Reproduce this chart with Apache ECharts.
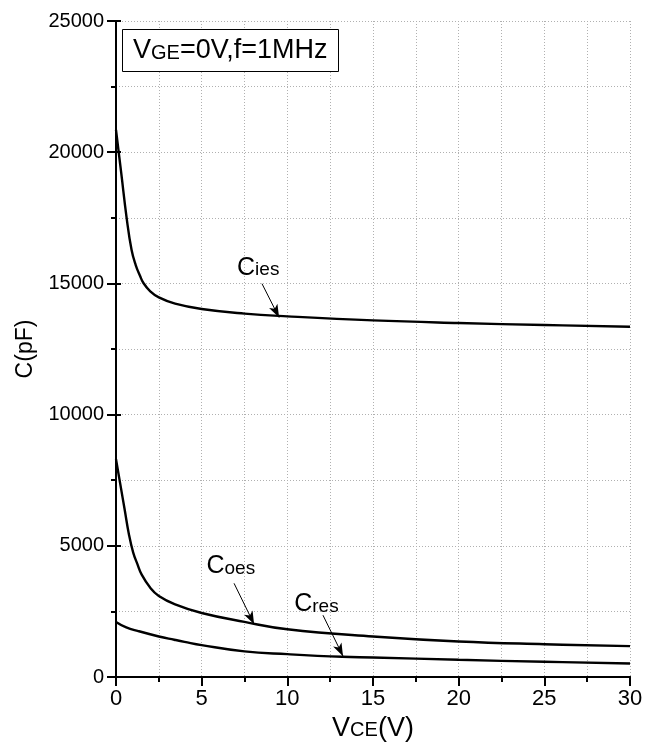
<!DOCTYPE html>
<html>
<head>
<meta charset="utf-8">
<script src="https://cdn.jsdelivr.net/npm/echarts@6/dist/echarts.min.js"></script>
<style>html,body{margin:0;padding:0;background:#fff}#c{width:648px;height:747px}</style>
</head>
<body>
<div id="c"></div>
<script>
// Data
var ciesV = [0, 0.31, 0.62, 0.91, 1.15, 1.4, 1.6, 2.0, 2.5, 3.45, 5, 7.5, 10, 15, 20, 25, 30];
var ciesC = [20850, 19180, 17500, 16270, 15700, 15290, 15015, 14700, 14470, 14230, 14025, 13850, 13745, 13590, 13490, 13415, 13350];
var coesV = [0, 0.25, 0.5, 0.75, 1.0, 1.25, 1.5, 2.0, 2.5, 3.45, 5, 7.5, 10, 15, 20, 25, 30];
var coesC = [8300, 7350, 6400, 5450, 4750, 4300, 3900, 3400, 3090, 2770, 2440, 2100, 1820, 1545, 1355, 1250, 1175];
var cresV = [0, 0.6, 1.3, 2.5, 3.4, 4.0, 5, 7.5, 10, 13.2, 15, 20, 25, 30];
var cresC = [2100, 1890, 1750, 1545, 1420, 1340, 1215, 975, 870, 770, 745, 655, 580, 515];
var xTicks = [0, 5, 10, 15, 20, 25, 30];
var yTicks = [0, 5000, 10000, 15000, 20000, 25000];
// annotations: label position, arrow start, arrow end (data coordinates)
var ciesNote = {name: 'ies', label: [8.3, 15600], from: [8.52, 14990], to: [9.52, 13700]};
var coesNote = {name: 'oes', label: [6.7, 4220], from: [6.89, 3570], to: [8.06, 2010]};
var cresNote = {name: 'res', label: [11.7, 2770], from: [12.08, 2355], to: [13.25, 795]};

function zip(a, b) { return a.map(function (v, i) { return [v, b[i]]; }); }

var FONT = '"Liberation Sans", Arial, sans-serif';
var gridLine = {show: true, lineStyle: {color: '#b0b0b0', type: [1, 2], width: 1}};
function rich(big, small) {
  return {
    b: {fontSize: big, fontFamily: FONT, fontWeight: 'normal', color: '#000', verticalAlign: 'bottom'},
    s: {fontSize: small, fontFamily: FONT, fontWeight: 'normal', color: '#000', verticalAlign: 'bottom', padding: [0, 0, 1, 0]}
  };
}

function mkSeries(name, v, c, note) {
  return {
    name: name, type: 'line', data: zip(v, c), smooth: 0.45,
    showSymbol: false, symbol: 'none',
    lineStyle: {color: '#000', width: 2.4},
    markLine: {
      silent: true, symbol: ['none', 'arrow'], symbolSize: [7, 13],
      lineStyle: {color: '#000', width: 1, type: 'solid'},
      label: {show: false},
      data: [[{coord: note.from}, {coord: note.to}]]
    },
    markPoint: {
      silent: true, symbol: 'circle', symbolSize: 1, itemStyle: {color: 'rgba(0,0,0,0)'},
      label: {show: true, position: 'inside', formatter: '{b|C}{s|' + note.name + '}', rich: rich(25, 19)},
      data: [{coord: note.label}]
    }
  };
}

var chart = echarts.init(document.getElementById('c'));
chart.setOption({
  animation: false,
  backgroundColor: '#fff',
  title: {
    text: '{b|V}{s|GE}{b|=0V,f=1MHz}',
    left: 122, top: 29, padding: [8, 11, 8, 11],
    borderColor: '#000', borderWidth: 1, backgroundColor: '#fff',
    textStyle: {fontWeight: 'normal', rich: rich(27, 20)}
  },
  grid: {left: 116, right: 18, top: 21, bottom: 70, containLabel: false},
  xAxis: [{
    type: 'value', min: xTicks[0], max: xTicks[xTicks.length - 1], interval: 5,
    position: 'bottom',
    axisLine: {lineStyle: {color: '#000', width: 2}},
    axisTick: {show: true, inside: false, length: 9, lineStyle: {color: '#000', width: 2}},
    minorTick: {show: true, splitNumber: 2, length: 5, lineStyle: {color: '#000', width: 2}},
    splitLine: gridLine, minorSplitLine: gridLine,
    axisLabel: {fontSize: 22, fontFamily: FONT, color: '#000', margin: 11, formatter: function (v) { return String(v); }},
    name: '{b|V}{s|CE}{b|(V)}', nameLocation: 'middle', nameGap: 25,
    nameTextStyle: {rich: rich(27, 20)}
  }, {
    type: 'value', min: xTicks[0], max: xTicks[xTicks.length - 1], interval: 5,
    position: 'top',
    axisLine: {show: true, lineStyle: {color: '#000', width: 2}},
    axisTick: {show: false}, axisLabel: {show: false}, splitLine: {show: false}
  }],
  yAxis: [{
    type: 'value', min: yTicks[0], max: yTicks[yTicks.length - 1], interval: 5000,
    position: 'left',
    axisLine: {show: true, lineStyle: {color: '#000', width: 2}},
    axisTick: {show: true, inside: false, length: 9, lineStyle: {color: '#000', width: 2}},
    minorTick: {show: true, splitNumber: 2, length: 5, lineStyle: {color: '#000', width: 2}},
    splitLine: gridLine, minorSplitLine: gridLine,
    axisLabel: {fontSize: 20, fontFamily: FONT, color: '#000', margin: 12, formatter: function (v) { return String(v); }},
    name: 'C(pF)', nameLocation: 'middle', nameGap: 76,
    nameTextStyle: {fontSize: 23, fontFamily: FONT, color: '#000'}
  }, {
    type: 'value', min: yTicks[0], max: yTicks[yTicks.length - 1], interval: 5000,
    position: 'right',
    axisLine: {show: true, lineStyle: {color: '#000', width: 2}},
    axisTick: {show: true, inside: false, length: 5, lineStyle: {color: '#000', width: 2}},
    minorTick: {show: false},
    axisLabel: {show: false}, splitLine: {show: false}
  }],
  series: [
    mkSeries('Cies', ciesV, ciesC, ciesNote),
    mkSeries('Coes', coesV, coesC, coesNote),
    mkSeries('Cres', cresV, cresC, cresNote)
  ]
});
</script>
</body>
</html>
